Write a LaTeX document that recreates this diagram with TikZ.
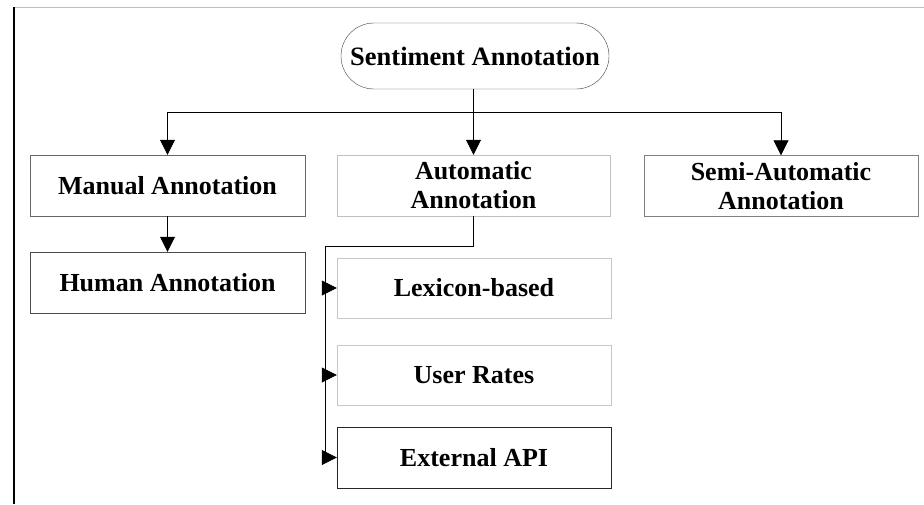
\documentclass[tikz,border=0pt]{standalone}
\usepackage{fontspec}
\setmainfont{Liberation Serif}
\usetikzlibrary{arrows.meta}
\tikzset{
  box/.style={draw, rectangle, minimum width=275pt, minimum height=61pt, inner sep=0pt,
    align=center, font=\fontsize{26}{29}\selectfont\bfseries},
  stadium/.style={draw=black!75, rectangle, rounded corners=33pt, minimum width=268pt,
    minimum height=66pt, inner sep=0pt, font=\fontsize{26.5}{29}\selectfont\bfseries},
  conn/.style={draw=black, line width=0.8pt},
  arr/.style={conn, -{Triangle[length=15pt,width=15pt]}},
}
\begin{document}
\begin{tikzpicture}[x=1pt,y=-1pt]
\useasboundingbox (0,0) rectangle (924,504);
\fill[white] (0,0) rectangle (924,504);
\draw[black!25, line width=1pt] (14,7) -- (924,7);
\draw[black, line width=1.6pt] (14,7) -- (14,504);

\node[stadium] (sent) at (475,56) {Sentiment Annotation};
\node[box, draw=black!60] (manual) at (167.5,185.5) {Manual Annotation};
\node[box, draw=black!70] (human) at (167.5,282.5) {Human Annotation};
\node[box, draw=black!25, minimum width=273pt] (auto) at (473.5,185.5) {Automatic\\Annotation};
\node[box, draw=black!50, minimum width=274pt] (semi) at (781,186) {Semi-Automatic\\Annotation};
\node[box, draw=black!22, minimum width=274pt, minimum height=60pt] (lex) at (474,288) {Lexicon-based};
\node[box, draw=black!22, minimum width=274pt, minimum height=60pt] (user) at (474,375) {User Rates};
\node[box, draw=black!85, minimum width=274pt, minimum height=61pt] (ext) at (474,457.5) {External API};

\coordinate (bus) at (473.5,112);
\coordinate (j) at (325,246);

\draw[conn] (sent.south -| bus) -- (bus);
\draw[conn] (manual.north |- bus) -- (semi.north |- bus);
\draw[arr] (manual.north |- bus) -- (manual.north);
\draw[arr] (bus) -- (auto.north);
\draw[arr] (semi.north |- bus) -- (semi.north);
\draw[arr] (manual.south) -- (human.north);

\draw[conn] (auto.south) |- (j) -- (j |- ext.west);
\draw[arr] (j |- lex.west) -- (lex.west);
\draw[arr] (j |- user.west) -- (user.west);
\draw[arr] (j |- ext.west) -- (ext.west);
\end{tikzpicture}
\end{document}
